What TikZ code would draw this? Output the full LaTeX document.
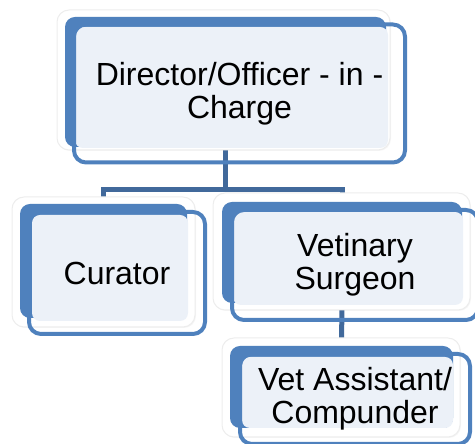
\documentclass[tikz,border=0pt]{standalone}
\usepackage{fontspec}
\setmainfont{Liberation Sans}
\usepackage{xcolor}
\usepackage{tikz}
\usetikzlibrary{shadows,backgrounds}

\definecolor{boxblue}{HTML}{4F81BD}
\definecolor{boxpale}{HTML}{ECF1F8}
\definecolor{linkblue}{HTML}{41699B}

\begin{document}
\begin{tikzpicture}[x=1pt,y=1pt,inner sep=0pt,outer sep=0pt]
        \tikzset{card/.style={rectangle,rounded corners=12pt,fill=white,draw=black!7,line width=1pt,
            drop shadow={opacity=0.08,shadow xshift=1pt,shadow yshift=-1pt}}};
        \tikzset{panel/.style={rectangle,rounded corners=10pt,fill=boxblue}};
        \tikzset{inset/.style={rectangle,rounded corners=8pt,fill=boxpale}};
        \tikzset{frame/.style={rectangle,rounded corners=12pt,draw=boxblue,line width=4pt,
            align=center,font=\fontsize{32pt}{33pt}\selectfont}};
        \tikzset{link/.style={draw=linkblue,line width=5pt}};

        \useasboundingbox (0,0) rectangle (475,444);

        % Director
        \node [card,minimum width=333pt,minimum height=140pt] (dircard) at (223.5,364) {};
        \node [panel,minimum width=321pt,minimum height=130pt] (dirpanel) at (225.5,362) {};
        \node [inset,minimum width=313pt,minimum height=121pt] (dirinset) at (231.5,356.5) {};
        \node [frame,minimum width=331pt,minimum height=138pt] (director) at (239.5,350.5) {Director/Officer - in -\\Charge};

        % Curator
        \node [card,minimum width=183pt,minimum height=130pt] (curcard) at (103.5,182) {};
        \node [panel,minimum width=167pt,minimum height=114pt] (curpanel) at (103.5,183) {};
        \node [inset,minimum width=156pt,minimum height=106pt] (curinset) at (110,176) {};
        \node [frame,minimum width=176pt,minimum height=122pt] (curator) at (117,171) {Curator};

        % Vetinary Surgeon
        \node [card,minimum width=257pt,minimum height=117pt] (vetcard) at (341.5,192.5) {};
        \node [panel,minimum width=240pt,minimum height=101pt] (vetpanel) at (342,191.5) {};
        \node [inset,minimum width=230pt,minimum height=93pt] (vetinset) at (348,185.5) {};
        \node [frame,minimum width=246pt,minimum height=110pt] (surgeon) at (355,179) {Vetinary\\Surgeon};

        % Vet Assistant
        \node [card,minimum width=238pt,minimum height=99pt] (asstcard) at (341,56.5) {};
        \node [panel,minimum width=223pt,minimum height=82pt] (asstpanel) at (341.5,57) {};
        \node [inset,minimum width=211pt,minimum height=71pt] (asstinset) at (347.5,51.5) {};
        \node [frame,minimum width=230pt,minimum height=90pt] (assistant) at (355,45) {Vet Assistant/\\Compunder};

        \begin{scope}[on background layer]
            \draw [link] (dirpanel.south) -- ++(0,-42.5) coordinate (fork) -| (curpanel.north);
            \draw [link] (fork) -| (vetpanel.north);
            \draw [link] (vetpanel.south) -- (asstpanel.north);
        \end{scope}
    \end{tikzpicture}
\end{document}
